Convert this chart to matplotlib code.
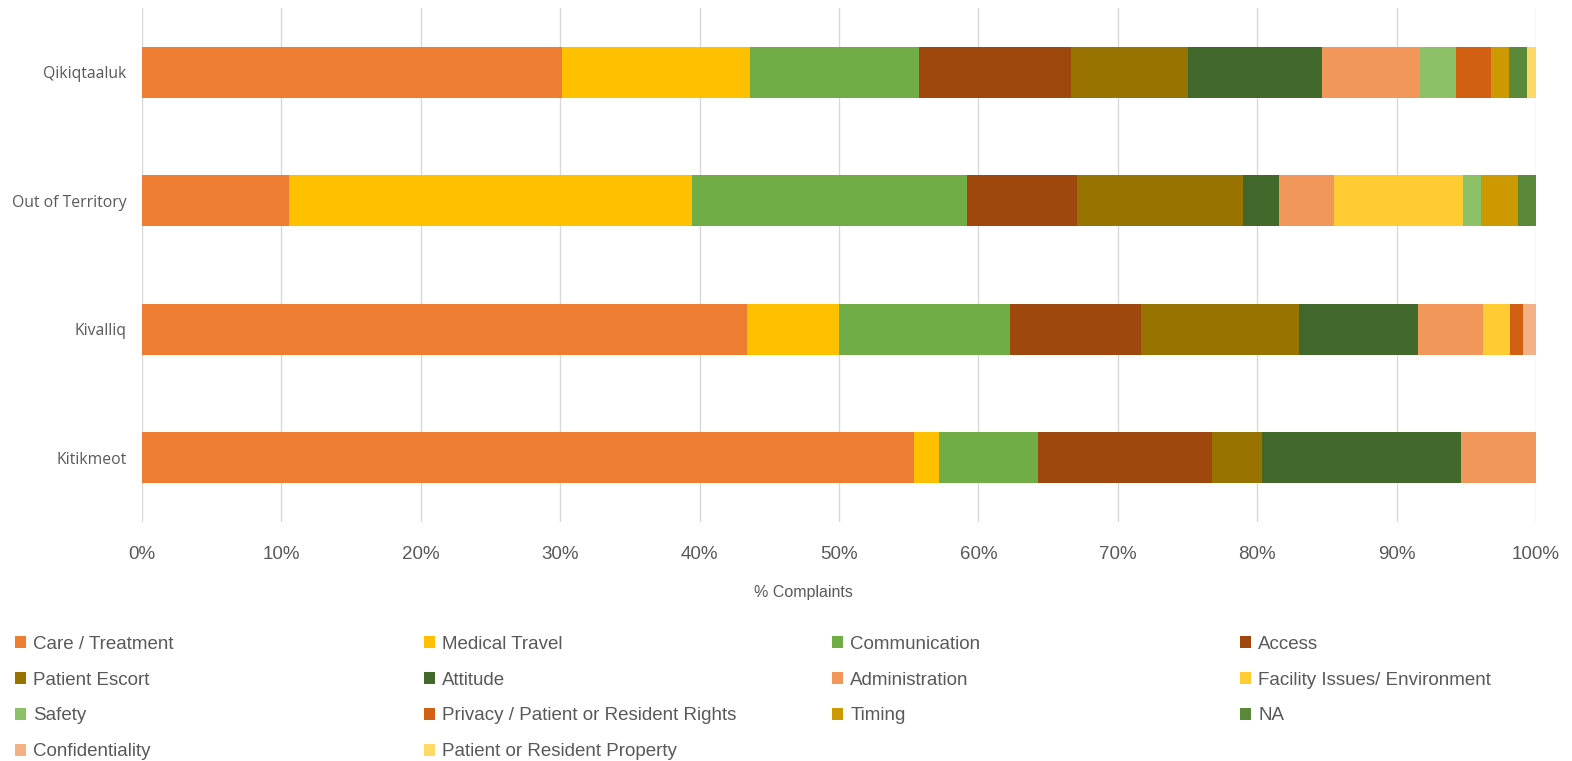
import matplotlib
matplotlib.use("Agg")
import matplotlib.pyplot as plt
import numpy as np

# Regions, bottom to top as they appear on the axis
regions = ["Kitikmeot", "Kivalliq", "Out of Territory", "Qikiqtaaluk"]

categories = [
    "Care / Treatment", "Medical Travel", "Communication", "Access",
    "Patient Escort", "Attitude", "Administration", "Facility Issues/ Environment",
    "Safety", "Privacy / Patient or Resident Rights", "Timing", "NA",
    "Confidentiality", "Patient or Resident Property",
]

# complaint counts per category, one list per region (same order as regions)
kitikmeot = [31, 1, 4, 7, 2, 8, 3, 0, 0, 0, 0, 0, 0, 0]
kivalliq = [46, 7, 13, 10, 12, 9, 5, 2, 0, 1, 0, 0, 1, 0]
out_of_territory = [8, 22, 15, 6, 9, 2, 3, 7, 1, 0, 2, 1, 0, 0]
qikiqtaaluk = [47, 21, 19, 17, 13, 15, 11, 0, 4, 4, 2, 2, 0, 1]

colors = [
    "#ED7D31", "#FFC000", "#70AD47", "#9E480E",
    "#997300", "#43682B", "#F1975A", "#FFCD33",
    "#8CC168", "#D26012", "#CC9A00", "#5A8A39",
    "#F4B183", "#FFD966",
]

counts = np.array([kitikmeot, kivalliq, out_of_territory, qikiqtaaluk], dtype=float)
pct = counts / counts.sum(axis=1, keepdims=True) * 100

fig = plt.figure(figsize=(15.72, 7.61), dpi=100)
ax = fig.add_axes([142 / 1572, 1 - 522 / 761, (1536 - 142) / 1572, (522 - 8) / 761])

y = np.arange(len(regions))
left = np.zeros(len(regions))
handles = []
for i, cat in enumerate(categories):
    h = ax.barh(y, pct[:, i], left=left, height=0.4, color=colors[i],
                label=cat, edgecolor="none", zorder=3)
    handles.append(h)
    left += pct[:, i]

ax.set_xlim(0, 100)
ax.set_ylim(-0.5, 3.5)
ax.set_xticks(np.arange(0, 101, 10))
ax.set_xticklabels([f"{v}%" for v in range(0, 101, 10)])
ax.set_yticks(y)
ax.set_yticklabels(regions)
ax.grid(axis="x", color="#D9D9D9", linewidth=1, zorder=0)
for s in ax.spines.values():
    s.set_visible(False)
ax.tick_params(axis="both", length=0, colors="#595959")
ax.tick_params(axis="x", pad=17, labelsize=13.5)
ax.tick_params(axis="y", pad=11, labelsize=11.3)
for lab in ax.get_xticklabels():
    lab.set_fontfamily(["Liberation Sans", "DejaVu Sans"])
for lab in ax.get_yticklabels():
    lab.set_fontfamily(["Open Sans", "DejaVu Sans"])
ax.set_xlabel("% Complaints", fontsize=11.5, color="#595959",
              family=["Liberation Sans", "DejaVu Sans"])
ax.xaxis.set_label_coords((803 - 142) / (1536 - 142), -(585 - 522) / (522 - 8))

# legend laid out row by row in four fixed columns
col_x = [15, 424, 832, 1240]
for c in range(4):
    idx = list(range(c, len(categories), 4))
    leg = fig.legend([handles[i] for i in idx], [categories[i] for i in idx],
                     loc="upper left", bbox_to_anchor=(col_x[c] / 1572, 1 - 636 / 761),
                     frameon=False, borderpad=0, borderaxespad=0,
                     handlelength=0.6, handleheight=0.6, handletextpad=0.38,
                     labelspacing=1.0,
                     prop={"family": ["Liberation Sans", "DejaVu Sans"], "size": 13.5})
    for t in leg.get_texts():
        t.set_color("#595959")

fig.savefig("out.png", dpi=100)
